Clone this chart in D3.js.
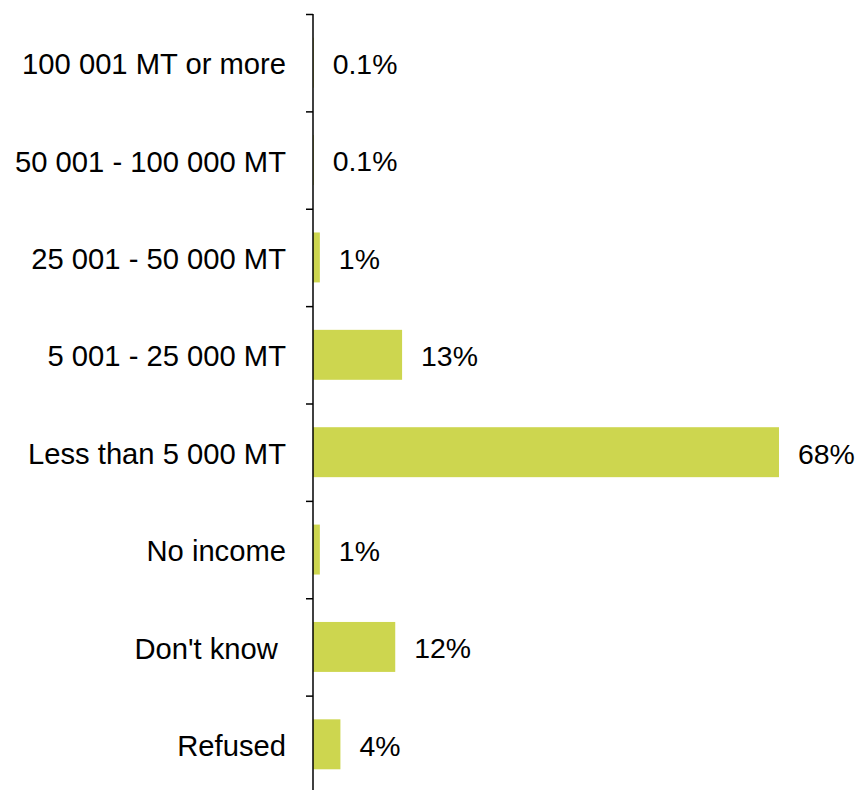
<!DOCTYPE html>
<html>
<head>
<meta charset="utf-8">
<script src="https://cdn.jsdelivr.net/npm/d3@7"></script>
<style>
  html, body { margin: 0; padding: 0; background: #fff; }
  svg { display: block; }
  text { font-family: "Liberation Sans", Arial, sans-serif; fill: #000; white-space: pre; }
</style>
</head>
<body>
<svg id="chart" width="860" height="790"></svg>
<script>
// Monthly household income categories (top to bottom)
const categories = [
  "100 001 MT or more",
  "50 001 - 100 000 MT",
  "25 001 - 50 000 MT",
  "5 001 - 25 000 MT",
  "Less than 5 000 MT",
  "No income",
  "Don't know ",
  "Refused"
];
// Share of respondents, percent
const values = [0.1, 0.1, 1, 13, 68, 1, 12, 4];
const valueLabels = ["0.1%", "0.1%", "1%", "13%", "68%", "1%", "12%", "4%"];

(function drawChart() {
  const svg = d3.select("#chart");
  const plotLeft = 313, plotTop = 14, plotBottom = 793, fontSize = 29.2;

  const x = d3.scaleLinear().domain([0, 68]).range([plotLeft, 779]);
  const y = d3.scaleBand()
    .domain(categories)
    .range([plotTop, plotBottom])
    .paddingInner(0.487)
    .paddingOuter(0.2435);

  // Boundary ticks between categories
  const yEdge = d3.scaleLinear().domain([0, categories.length]).range([plotTop, plotBottom]);

  // Bars
  svg.append("g")
    .selectAll("rect")
    .data(values)
    .join("rect")
    .attr("x", plotLeft)
    .attr("y", (d, i) => y(categories[i]))
    .attr("width", d => x(d) - plotLeft)
    .attr("height", y.bandwidth())
    .attr("fill", "#cdd64f");

  // Axis with ticks at category boundaries
  const axis = d3.axisLeft(yEdge)
    .tickValues(d3.range(categories.length + 1))
    .tickFormat("")
    .tickSize(7)
    .tickSizeOuter(0);
  const gAxis = svg.append("g")
    .attr("transform", `translate(${plotLeft},0)`)
    .call(axis);
  gAxis.select(".domain").attr("stroke", "#000").attr("stroke-width", 1.5)
    .attr("d", `M0,${plotTop}V${plotBottom}`);
  gAxis.selectAll(".tick line").attr("stroke", "#000").attr("stroke-width", 1.5);

  // Category labels
  svg.append("g")
    .selectAll("text")
    .data(categories)
    .join("text")
    .attr("x", 286)
    .attr("y", d => y(d) + y.bandwidth() / 2)
    .attr("dy", "0.4em")
    .attr("text-anchor", "end")
    .style("font-size", fontSize + "px")
    .text(d => d);

  // Value labels
  svg.append("g")
    .selectAll("text")
    .data(values)
    .join("text")
    .attr("x", d => x(d) + 19)
    .attr("y", (d, i) => y(categories[i]) + y.bandwidth() / 2)
    .attr("dy", "0.4em")
    .style("font-size", "28.4px")
    .text((d, i) => valueLabels[i]);
})();
</script>
</body>
</html>
